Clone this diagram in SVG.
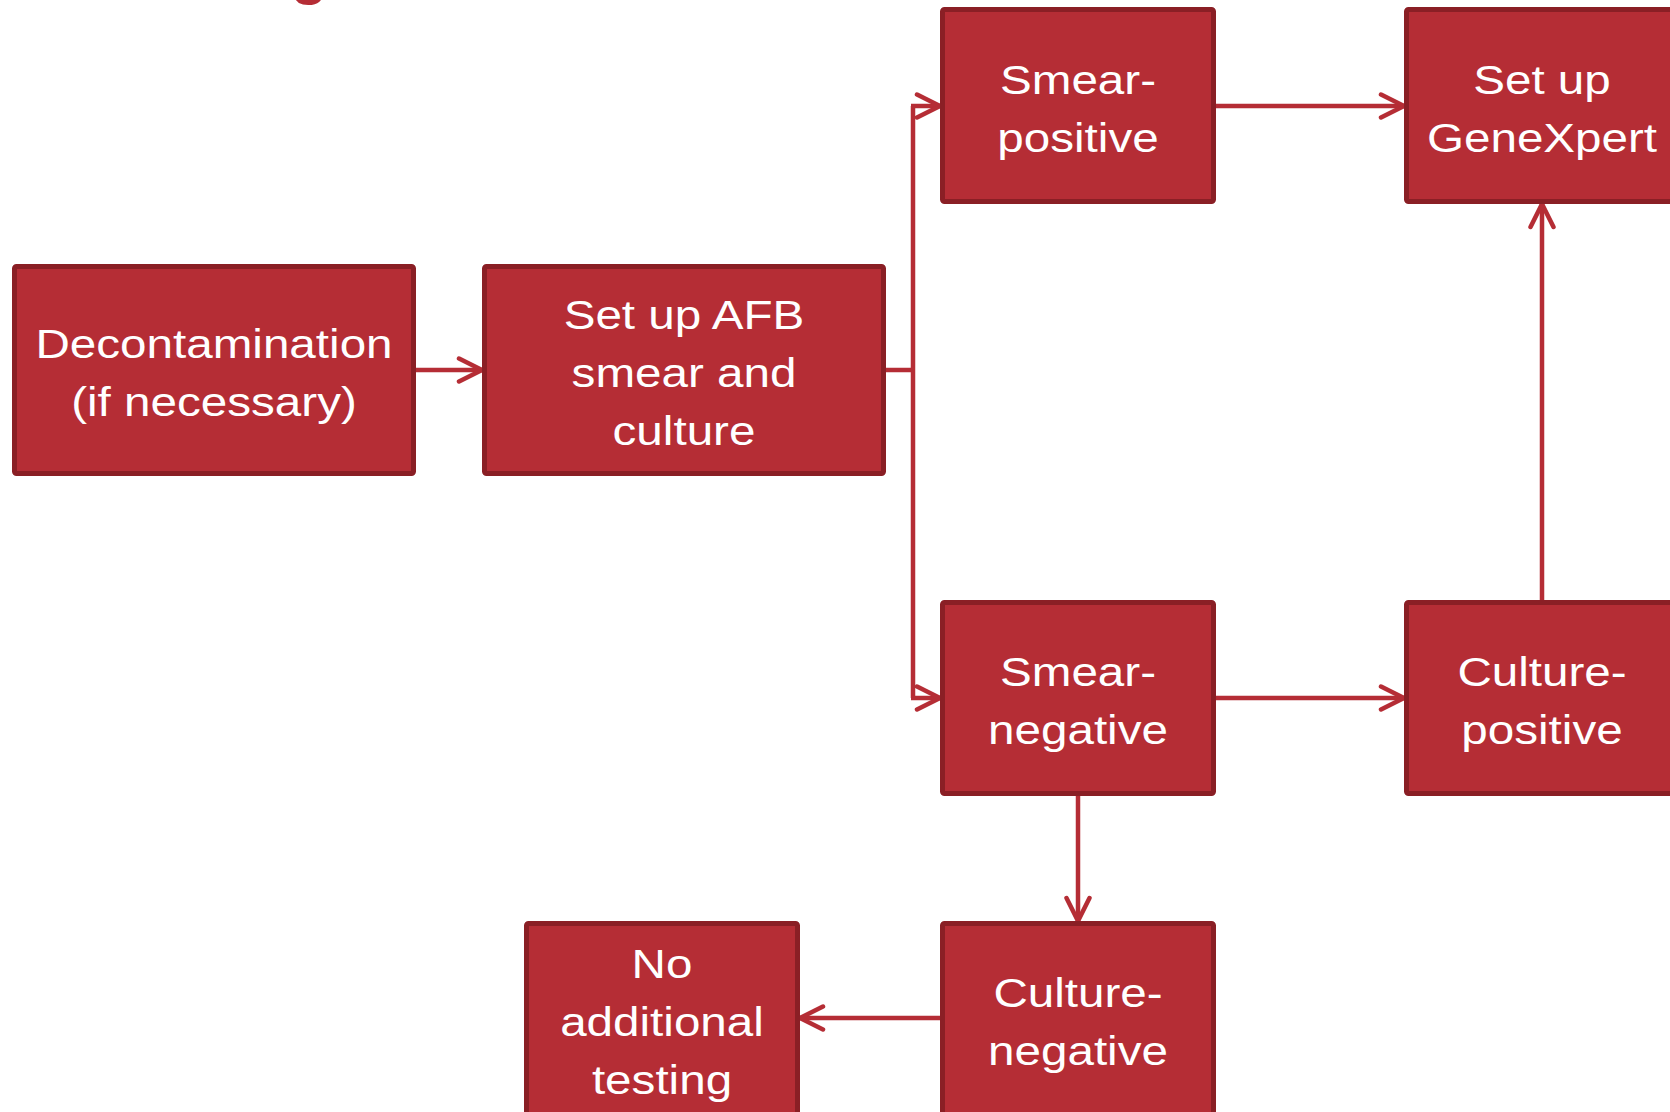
<svg xmlns="http://www.w3.org/2000/svg" width="1670" height="1112" viewBox="0 0 1670 1112">
<style>
.box{fill:#B52D35;stroke:#8A1F25;stroke-width:5}
.lbl{font-family:"Liberation Sans",Arial,sans-serif;font-size:40px;fill:#FFFFFF;text-anchor:middle}
.con{fill:none;stroke:#B52D35;stroke-width:4.5}
.title{font-family:"Liberation Sans",Arial,sans-serif;font-size:60px;font-weight:bold;fill:#B52D35;text-anchor:middle}
</style>
<defs>
<marker id="arr" markerUnits="userSpaceOnUse" markerWidth="32" markerHeight="32" viewBox="0 0 32 32" refX="27" refY="16" orient="auto">
<path d="M4,4.5 L27,16 L4,27.5" fill="none" stroke="#B52D35" stroke-width="4.5" stroke-linecap="round" stroke-linejoin="miter"/>
</marker>
</defs>
<text class="title" x="309" y="-7.5">g</text>
<g id="connectors">
<line class="con" x1="416" y1="370" x2="482" y2="370" marker-end="url(#arr)"/>
<polyline class="con" points="886,370 913,370"/>
<polyline class="con" points="913,106 913,698"/>
<line class="con" x1="911" y1="106" x2="940" y2="106" marker-end="url(#arr)"/>
<line class="con" x1="911" y1="698" x2="940" y2="698" marker-end="url(#arr)"/>
<line class="con" x1="1216" y1="106" x2="1404" y2="106" marker-end="url(#arr)"/>
<line class="con" x1="1216" y1="698" x2="1404" y2="698" marker-end="url(#arr)"/>
<line class="con" x1="1542" y1="600" x2="1542" y2="204" marker-end="url(#arr)"/>
<line class="con" x1="1078" y1="796" x2="1078" y2="921" marker-end="url(#arr)"/>
<line class="con" x1="940" y1="1018" x2="800" y2="1018" marker-end="url(#arr)"/>
</g>
<g id="decontamination">
<rect class="box" x="14.5" y="266.5" width="399" height="207" rx="2"/>
<g transform="translate(214,0) scale(1.19,1)"><text class="lbl" x="0" y="358">Decontamination</text><text class="lbl" x="0" y="416">(if necessary)</text></g>
</g>
<g id="afb">
<rect class="box" x="484.5" y="266.5" width="399" height="207" rx="2"/>
<g transform="translate(684,0) scale(1.19,1)"><text class="lbl" x="0" y="329">Set up AFB</text><text class="lbl" x="0" y="387">smear and</text><text class="lbl" x="0" y="445">culture</text></g>
</g>
<g id="smear-positive">
<rect class="box" x="942.5" y="9.5" width="271" height="192" rx="2"/>
<g transform="translate(1078,0) scale(1.19,1)"><text class="lbl" x="0" y="94">Smear-</text><text class="lbl" x="0" y="152">positive</text></g>
</g>
<g id="genexpert">
<rect class="box" x="1406.5" y="9.5" width="271" height="192" rx="2"/>
<g transform="translate(1542,0) scale(1.19,1)"><text class="lbl" x="0" y="94">Set up</text><text class="lbl" x="0" y="152">GeneXpert</text></g>
</g>
<g id="smear-negative">
<rect class="box" x="942.5" y="602.5" width="271" height="191" rx="2"/>
<g transform="translate(1078,0) scale(1.19,1)"><text class="lbl" x="0" y="686">Smear-</text><text class="lbl" x="0" y="744">negative</text></g>
</g>
<g id="culture-positive">
<rect class="box" x="1406.5" y="602.5" width="271" height="191" rx="2"/>
<g transform="translate(1542,0) scale(1.19,1)"><text class="lbl" x="0" y="686">Culture-</text><text class="lbl" x="0" y="744">positive</text></g>
</g>
<g id="culture-negative">
<rect class="box" x="942.5" y="923.5" width="271" height="192" rx="2"/>
<g transform="translate(1078,0) scale(1.19,1)"><text class="lbl" x="0" y="1007">Culture-</text><text class="lbl" x="0" y="1065">negative</text></g>
</g>
<g id="no-additional">
<rect class="box" x="526.5" y="923.5" width="271" height="192" rx="2"/>
<g transform="translate(662,0) scale(1.19,1)"><text class="lbl" x="0" y="978">No</text><text class="lbl" x="0" y="1036">additional</text><text class="lbl" x="0" y="1094">testing</text></g>
</g>
</svg>
